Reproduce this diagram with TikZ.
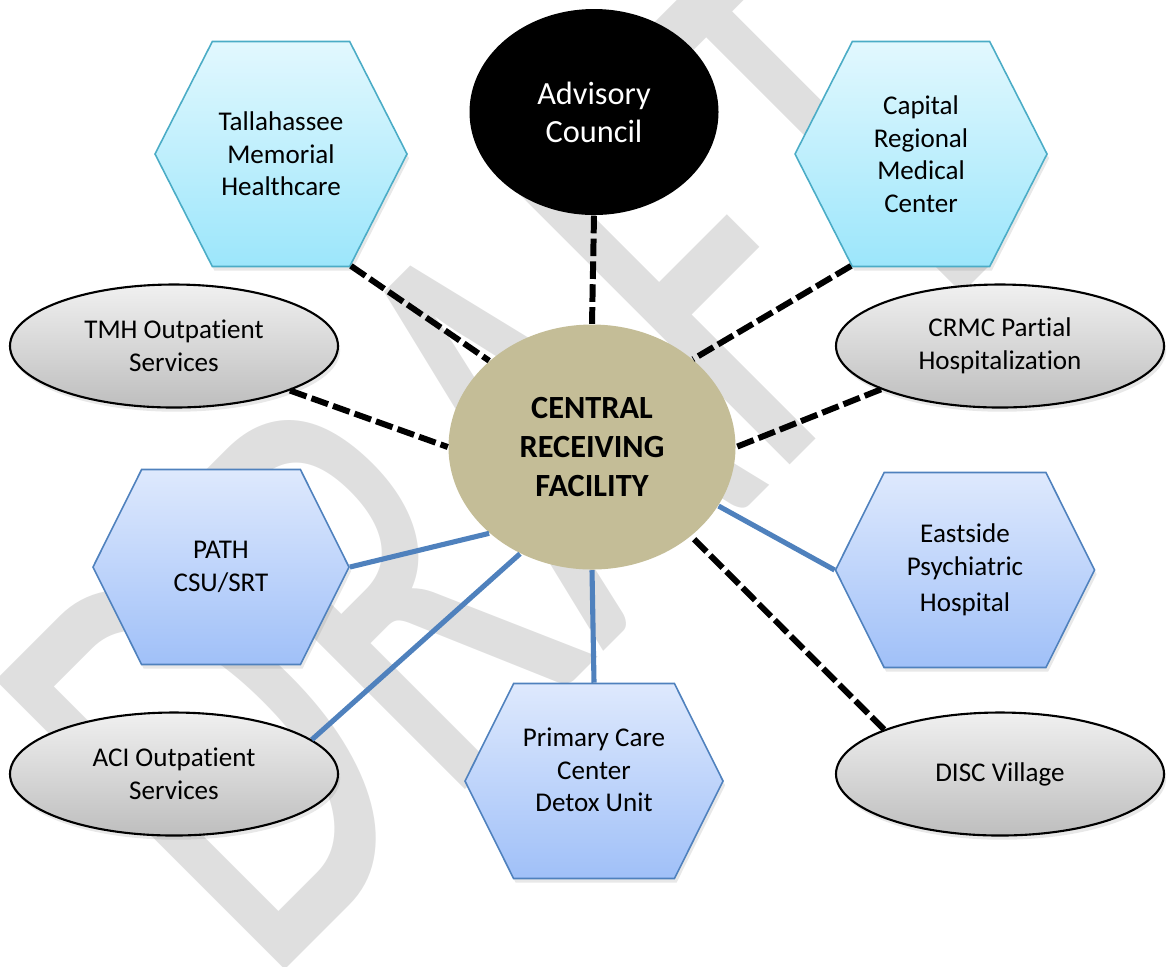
\documentclass[tikz,border=0pt]{standalone}
\usepackage{fontspec}
\setmainfont{Carlito}[Ligatures=NoCommon]
\usepackage{tikz}
\usetikzlibrary{shapes, shapes.symbols, shadows, positioning}
\newcommand{\txtsize}{\fontsize{7.7}{9.25}\selectfont}
\definecolor{cyanline}{RGB}{75,172,198}
\definecolor{cyantop}{RGB}{226,248,254}
\definecolor{cyanbot}{RGB}{156,230,251}
\definecolor{blueline}{RGB}{79,129,189}
\definecolor{bluetop}{RGB}{222,233,253}
\definecolor{bluebot}{RGB}{160,192,248}
\definecolor{graytop}{RGB}{240,240,240}
\definecolor{graybot}{RGB}{190,190,190}
\definecolor{crfcolor}{RGB}{196,189,151}

\begin{document}
\begin{tikzpicture}[font=\txtsize,
    every node/.style={align=center, inner sep=0pt},
    softshadow/.style={drop shadow={opacity=0.18, shadow xshift=0.6pt, shadow yshift=-1.2pt}},
    hexa/.style={signal, signal to=east and west, signal pointer angle=127, line width=0.45pt,
        minimum width=2.56cm, minimum height=1.95cm, softshadow},
    cyanhex/.style={hexa, draw=cyanline, top color=cyantop, bottom color=cyanbot,
        minimum width=2.52cm, minimum height=2.25cm, signal pointer angle=126},
    bluehex/.style={hexa, draw=blueline, top color=bluetop, bottom color=bluebot},
    oval/.style={ellipse, draw=black, line width=0.6pt, top color=graytop, bottom color=graybot,
        minimum width=3.28cm, minimum height=1.23cm, softshadow},
    dashlink/.style={line width=1.7pt, dash pattern=on 5pt off 1.5pt},
    bluelink/.style={draw=blueline, line width=1.45pt}]

    \useasboundingbox (0,0) rectangle (11.70,-9.66);

    % watermark
    \begin{scope}
        \clip (0,0) rectangle (11.70,-9.66);
        \node[rotate=45, yscale=1.55, anchor=base west, text=gray!25,
            font=\fontsize{117}{117}\selectfont] (wm) at (2.65,-9.90) {DRAFT};
    \end{scope}

    \node[ellipse, fill=black, text=white, font=\fontsize{9.2}{10.8}\selectfont,
        minimum width=2.49cm, minimum height=2.06cm] (c_adv) at (5.94,-1.12) {Advisory\\Council};
    \node[ellipse, fill=crfcolor, font=\bfseries\fontsize{9.2}{11.1}\selectfont,
        minimum width=2.87cm, minimum height=2.45cm] (c_crf) at (5.92,-4.47) {CENTRAL\\RECEIVING\\FACILITY};

    \node[cyanhex] (h_tmh) at (2.81,-1.54) {Tallahassee\\Memorial\\Healthcare};
    \node[cyanhex] (h_crmc) at (9.21,-1.54) {Capital\\Regional\\Medical\\Center};
    \node[bluehex] (h_path) at (2.21,-5.67) {PATH\\CSU/SRT};
    \node[bluehex, minimum width=2.59cm] (h_esp) at (9.65,-5.70) {Eastside\\Psychiatric\\[1pt]Hospital};
    \node[bluehex, minimum width=2.58cm] (h_pcc) at (5.94,-7.81) {Primary Care\\Center\\Detox Unit\\[-3pt]\mbox{}};

    \node[oval] (e_tmh) at (1.74,-3.46) {TMH Outpatient\\Services};
    \node[oval] (e_crmc) at (10.00,-3.46) {CRMC Partial\\Hospitalization};
    \node[oval] (e_aci) at (1.74,-7.74) {ACI Outpatient\\Services};
    \node[oval] (e_disc) at (10.00,-7.74) {DISC Village};

    \draw[dashlink] (c_adv.south) -- (c_crf.north);
    \draw[dashlink] (h_tmh.-58) -- (c_crf.140);
    \draw[dashlink] (h_crmc.-122) -- (c_crf.41);
    \draw[dashlink] (e_tmh.-21) -- (c_crf.180);
    \draw[dashlink] (e_crmc.200) -- (c_crf.0);
    \draw[dashlink] (e_disc.159) -- (c_crf.-42);

    \draw[bluelink] (h_path.east) -- (c_crf.220);
    \draw[bluelink] (h_esp.west) -- (c_crf.-25);
    \draw[bluelink] (h_pcc.north) -- (c_crf.south);
    \draw[bluelink] (e_aci.14) -- (c_crf.236);
\end{tikzpicture}
\end{document}
